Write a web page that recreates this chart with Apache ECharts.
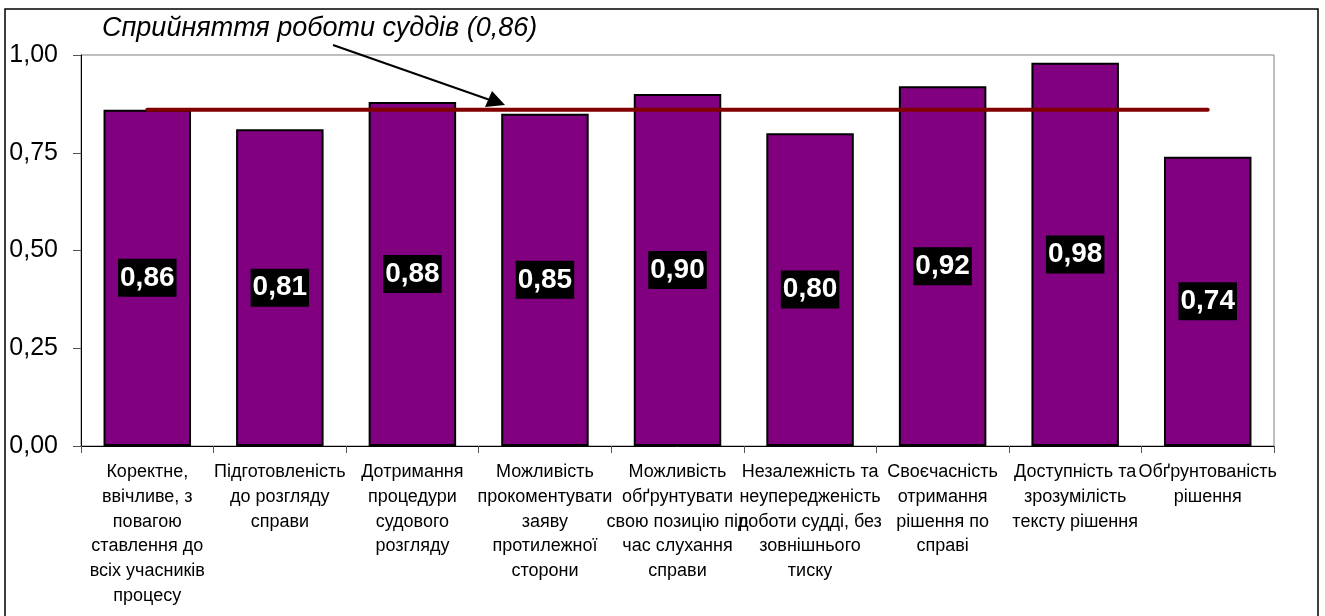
<!DOCTYPE html>
<html>
<head>
<meta charset="utf-8">
<script src="https://cdn.jsdelivr.net/npm/echarts@6/dist/echarts.min.js"></script>
<style>
html,body{margin:0;padding:0;background:#fff;}
#chart{width:1325px;height:616px;}
</style>
</head>
<body>
<div id="chart"></div>
<script>
const categories = [
  "Коректне,\nввічливе, з\nповагою\nставлення до\nвсіх учасників\nпроцесу",
  "Підготовленість\nдо розгляду\nсправи",
  "Дотримання\nпроцедури\nсудового\nрозгляду",
  "Можливість\nпрокоментувати\nзаяву\nпротилежної\nсторони",
  "Можливість\nобґрунтувати\nсвою позицію під\nчас слухання\nсправи",
  "Незалежність та\nнеупередженість\nроботи судді, без\nзовнішнього\nтиску",
  "Своєчасність\nотримання\nрішення по\nсправі",
  "Доступність та\nзрозумілість\nтексту рішення",
  "Обґрунтованість\nрішення"
];
const scores = [0.86, 0.81, 0.88, 0.85, 0.90, 0.80, 0.92, 0.98, 0.74];
const overallValue = 0.86;
const overallLine = categories.map(() => overallValue);
const annotationText = "Сприйняття роботи суддів (0,86)";

const FONT = '"Liberation Sans", Arial, sans-serif';
const fmt = v => v.toFixed(2).replace('.', ',');

const chart = echarts.init(document.getElementById('chart'), null, {renderer: 'canvas'});
chart.setOption({
  animation: false,
  backgroundColor: '#fff',
  textStyle: {fontFamily: FONT},
  grid: {
    left: 81, right: 51, top: 55, bottom: 170,
    show: true, borderColor: '#808080', borderWidth: 1, backgroundColor: 'transparent'
  },
  xAxis: {
    type: 'category',
    data: categories,
    boundaryGap: true,
    axisLine: {show: true, lineStyle: {color: '#000', width: 1}},
    axisTick: {show: true, length: 7, interval: 0, lineStyle: {color: '#555'}},
    axisLabel: {
      interval: 0, margin: 14, fontSize: 18, lineHeight: 24.7,
      color: '#000', fontFamily: FONT, align: 'center'
    },
    splitLine: {show: false}
  },
  yAxis: {
    type: 'value',
    min: 0, max: 1, interval: 0.25,
    axisLine: {show: true, lineStyle: {color: '#000', width: 1}},
    axisTick: {show: true, length: 8, lineStyle: {color: '#555'}},
    axisLabel: {formatter: fmt, fontSize: 25, color: '#000', margin: 23, fontFamily: FONT},
    splitLine: {show: false}
  },
  series: [
    {
      type: 'bar',
      data: scores,
      barCategoryGap: '34%',
      itemStyle: {color: '#800080', borderColor: '#000', borderWidth: 2},
      label: {
        show: true, position: 'inside',
        formatter: p => fmt(p.value),
        color: '#fff', fontWeight: 'bold', fontSize: 28, fontFamily: FONT,
        backgroundColor: '#000', padding: [6, 2, 4, 2]
      },
      z: 2
    },
    {
      type: 'line',
      data: overallLine,
      symbol: 'none',
      lineStyle: {color: '#800000', width: 4, cap: 'round'},
      z: 3
    }
  ],
  graphic: [
    {
      type: 'rect', silent: true,
      shape: {x: 5, y: 9, width: 1313, height: 630},
      style: {fill: 'none', stroke: '#000', lineWidth: 1.5}
    },
    {
      type: 'text', left: 102, top: 15,
      style: {text: annotationText, font: 'italic 27px ' + FONT, fill: '#000'}
    },
    {
      type: 'line',
      shape: {x1: 333, y1: 45, x2: 490, y2: 100},
      style: {stroke: '#000', lineWidth: 2}
    },
    {
      type: 'polygon',
      shape: {points: [[505, 105], [485, 107], [492, 91]]},
      style: {fill: '#000'}
    }
  ]
});
</script>
</body>
</html>
